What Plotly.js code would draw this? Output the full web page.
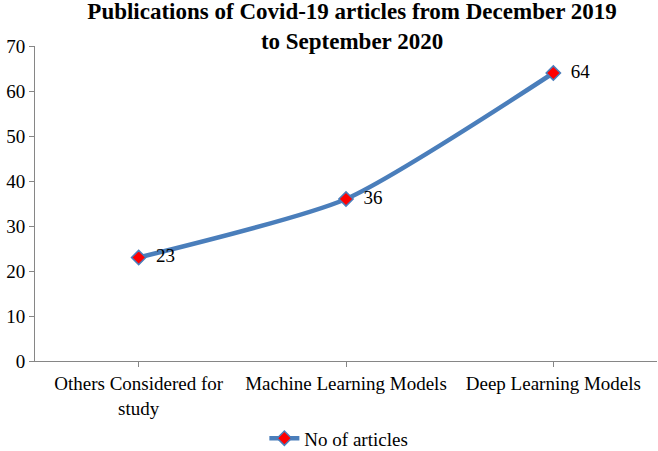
<!DOCTYPE html>
<html><head><meta charset="utf-8">
<script src="https://cdn.plot.ly/plotly-3.0.1.min.js"></script>
<style>html,body{margin:0;padding:0;background:#fff}</style>
</head><body>
<div id="chart" style="width:658px;height:451px"></div>
<script>
const categories = ["Others Considered for<br>study", "Machine Learning Models", "Deep Learning Models"];
const articles = [23, 36, 64];
const seriesName = "No of articles";
const yTicks = [0, 10, 20, 30, 40, 50, 60, 70];

const font = "Liberation Serif, Times New Roman, serif";
const trace = {
  x: [0, 1, 2],
  y: articles,
  type: 'scatter',
  mode: 'lines+markers+text',
  name: seriesName,
  text: articles.map(v => '\u00a0\u00a0' + v),
  textposition: 'middle right',
  textfont: {family: font, size: 19, color: '#000'},
  line: {color: '#4a7ebb', width: 4.5, shape: 'spline', smoothing: 0.6},
  marker: {symbol: 'diamond', size: 11, color: '#ff0000', line: {color: '#4a7ebb', width: 1.5}},
  cliponaxis: false
};
const layout = {
  width: 658, height: 451,
  margin: {l: 35, r: 1, t: 46, b: 90},
  paper_bgcolor: '#fff', plot_bgcolor: '#fff',
  font: {family: font, size: 19, color: '#000'},
  title: {text: '<b>Publications of Covid-19 articles from December 2019<br>to September 2020</b>',
          font: {family: font, size: 23, color: '#000'},
          xref: 'container', x: 0.535, xanchor: 'center',
          yref: 'container', y: 0.958, yanchor: 'middle'},
  xaxis: {
    range: [-0.5, 2.5], tickvals: [0, 1, 2], ticktext: categories,
    showgrid: false, zeroline: false,
    showline: true, linecolor: '#868686', linewidth: 1,
    ticks: 'outside', tickson: 'boundaries', ticklen: 5, tickcolor: '#868686',
    tickfont: {family: font, size: 19, color: '#000'}, fixedrange: true
  },
  yaxis: {
    range: [0, 70], tickvals: yTicks,
    showgrid: false, zeroline: false,
    showline: true, linecolor: '#868686', linewidth: 1,
    ticks: 'outside', ticklen: 5, tickcolor: '#868686',
    tickfont: {family: font, size: 19, color: '#000'}, fixedrange: true
  },
  showlegend: true,
  legend: {orientation: 'h', xref: 'container', x: 0.515, xanchor: 'center',
           yref: 'container', y: 0.028, yanchor: 'middle',
           font: {family: font, size: 19, color: '#000'}}
};
Plotly.newPlot('chart', [trace], layout, {displayModeBar: false, staticPlot: true});
</script>
</body></html>
